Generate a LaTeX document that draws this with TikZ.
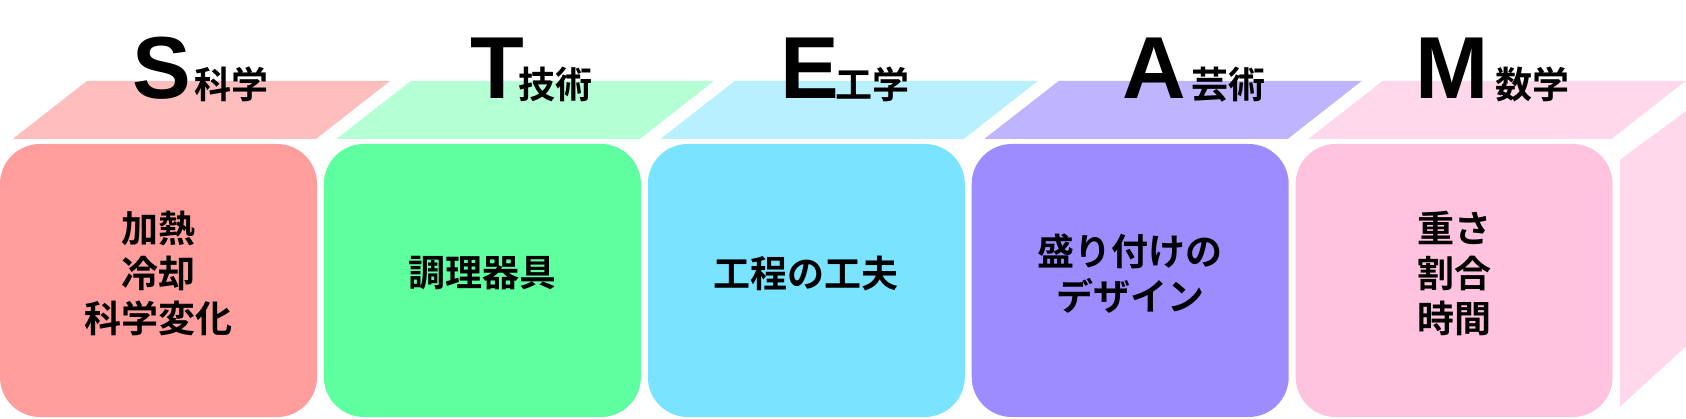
\documentclass[tikz,border=0pt]{standalone}
\usepackage{fontspec}
\newfontfamily\cjk{Noto Sans CJK JP}[BoldFont={* Bold}]
\newfontfamily\latin{Liberation Sans}
\usepackage{tikz}
\usetikzlibrary{positioning}
\usetikzlibrary{chains}
\definecolor{boxS}{HTML}{FF9C9C}
\definecolor{topS}{HTML}{FFBEBE}
\definecolor{boxT}{HTML}{5EFF9E}
\definecolor{topT}{HTML}{B4FFD4}
\definecolor{boxE}{HTML}{7AE3FF}
\definecolor{topE}{HTML}{B8F0FF}
\definecolor{boxA}{HTML}{9C8CFF}
\definecolor{topA}{HTML}{BEB4FF}
\definecolor{boxM}{HTML}{FFC3E0}
\definecolor{topM}{HTML}{FFD9EB}

\begin{document}
\begin{tikzpicture}[x=1pt,y=1pt,
  node distance = 6.5pt,
  start chain = going right,
  box/.style = {rectangle,rounded corners=40pt,minimum width=317pt,
  minimum height=273pt,inner sep=0pt,on chain},
  txt/.style = {align=center,inner sep=0pt,
  font=\cjk\bfseries\fontsize{37}{45}\selectfont},
  big/.style = {anchor=base,inner sep=0pt,
  font=\latin\bfseries\fontsize{88}{88}\selectfont},
  kanji/.style = {inner sep=0pt,font=\cjk\bfseries\fontsize{37}{37}\selectfont}]
 \useasboundingbox (0,0) rectangle (1686,418);
 % front faces
 \node[box,fill=boxS] (S) at (158.5,137.5) {};
 \node[box,fill=boxT] (T) {};
 \node[box,fill=boxE] (E) {};
 \node[box,fill=boxA] (A) {};
 \node[box,fill=boxM] (M) {};
 % top faces
 \fill[topS] ([shift={(13,5)}]S.north west) -- ([shift={(-1,5)}]S.north east) -- ++(74,58) -- ++(-303,0) -- cycle;
 \fill[topT] ([shift={(13,5)}]T.north west) -- ([shift={(-1,5)}]T.north east) -- ++(74,58) -- ++(-303,0) -- cycle;
 \fill[topE] ([shift={(13,5)}]E.north west) -- ([shift={(-1,5)}]E.north east) -- ++(74,58) -- ++(-303,0) -- cycle;
 \fill[topA] ([shift={(13,5)}]A.north west) -- ([shift={(-1,5)}]A.north east) -- ++(74,58) -- ++(-303,0) -- cycle;
 \fill[topM] ([shift={(13,5)}]M.north west) -- ([shift={(-1,5)}]M.north east) -- ++(74,58) -- ++(-303,0) -- cycle;
 % side face
 \fill[topM] ([shift={(7,-16)}]M.north east) -- ++(68,50) -- ++(0,-235) -- ++(-68,-62) -- cycle;
 % headings
 \node[big] (Sl) at ([shift={(3,45)}]S.north) {S};
 \node[kanji,right=3pt of Sl.base east,anchor=base west] (Sk) {科学};
 \node[big] (Tl) at ([shift={(14.5,45)}]T.north) {T};
 \node[kanji,right=-6pt of Tl.base east,anchor=base west] (Tk) {技術};
 \node[big] (El) at ([shift={(4,45)}]E.north) {E};
 \node[kanji,right=-5pt of El.base east,anchor=base west] (Ek) {工学};
 \node[big] (Al) at ([shift={(24,45)}]A.north) {A};
 \node[kanji,right=5pt of Al.base east,anchor=base west] (Ak) {芸術};
 \node[big] (Ml) at ([shift={(-1.5,45)}]M.north) {M};
 \node[kanji,right=6pt of Ml.base east,anchor=base west] (Mk) {数学};
 % contents
 \node[txt] (St) at ([yshift=7pt]S.center) {加熱\\冷却\\科学変化};
 \node[txt] (Tt) at ([yshift=7pt]T.center) {調理器具};
 \node[txt] (Et) at ([yshift=7pt]E.center) {工程の工夫};
 \node[txt] (At) at ([yshift=7pt]A.center) {盛り付けの\\デザイン};
 \node[txt] (Mt) at ([yshift=7pt]M.center) {重さ\\割合\\時間};
\end{tikzpicture}
\end{document}
